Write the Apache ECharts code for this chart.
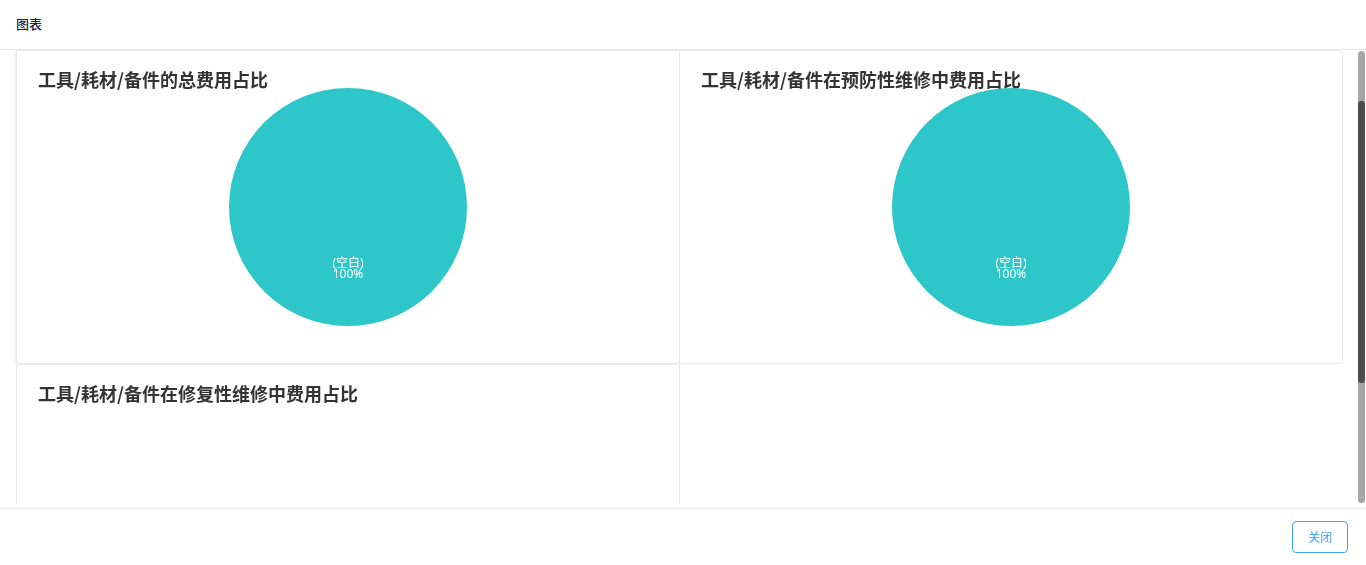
<!DOCTYPE html>
<html><head><meta charset="utf-8">
<script src="https://cdn.jsdelivr.net/npm/echarts@6/dist/echarts.min.js"></script>
<style>
html,body{margin:0;padding:0;width:1366px;height:565px;overflow:hidden;background:#fff;font-family:"Noto Sans CJK SC","Noto Sans",sans-serif;}
#hdr{position:absolute;left:0;top:0;width:1366px;height:49px;border-bottom:1px solid #e8e8e8;}
#hdr span{position:absolute;left:16px;top:14px;font-size:13px;color:#17233d;font-weight:500;}
#body{position:absolute;left:0;top:50px;width:1366px;height:454px;overflow:hidden;}
.panel{position:absolute;width:662px;height:312px;border:1px solid #e8e8e8;background:#fff;box-sizing:content-box;}
#p1{left:16px;top:0px;box-shadow:0 1px 4px rgba(0,0,0,0.12);border-radius:0 0 4px 4px;}
#p2{left:679px;top:0px;border-radius:0 4px 4px 0;}
#p3{left:16px;top:314px;}
.chart{width:662px;height:312px;}
#sb{position:absolute;left:1357px;top:50px;width:9px;height:455px;}
#sbt{position:absolute;left:1px;top:1px;width:7px;height:452px;background:#a6a6a6;border-radius:4px;}
#sbth{position:absolute;left:1px;top:51px;width:7px;height:282px;background:#4d4d4d;border-radius:3px;}
#ftr{position:absolute;left:0;top:508px;width:1366px;height:57px;border-top:1px solid #e8e8e8;}
#btn{position:absolute;left:1292px;top:12px;width:54px;height:30px;border:1px solid #409eff;border-radius:4px;color:#409eff;font-size:12px;line-height:30px;text-align:center;}
</style></head>
<body>
<div id="hdr"><span>图表</span></div>
<div id="body">
  <div class="panel" id="p1"><div class="chart" id="c1"></div></div>
  <div class="panel" id="p2"><div class="chart" id="c2"></div></div>
  <div class="panel" id="p3"><div class="chart" id="c3"></div></div>
</div>
<div id="sb"><div id="sbt"></div><div id="sbth"></div></div>
<div id="ftr"><div id="btn">关闭</div></div>
<script>
const titles = ['工具/耗材/备件的总费用占比','工具/耗材/备件在预防性维修中费用占比','工具/耗材/备件在修复性维修中费用占比'];
const categories1 = ['(空白)'];
const values1 = [100];
const categories2 = ['(空白)'];
const values2 = [100];
const categories3 = [];
const values3 = [];

const FONT = 'Noto Sans CJK SC';
const LFONT = 'Noto Sans, Noto Sans CJK SC, sans-serif';
function build(id, title, cats, vals){
  const c = echarts.init(document.getElementById(id), null, {renderer:'canvas'});
  c.setOption({
    animation:false,
    textStyle:{fontFamily:FONT},
    title:{text:title,left:21,top:20,padding:0,textStyle:{fontSize:18,fontWeight:'bold',color:'#333',fontFamily:FONT}},
    series: cats.length ? [{
      type:'pie',center:['50%','50%'],radius:119,
      color:['#2ec7c9'],
      label:{position:'inside',color:'#fff',fontSize:12,lineHeight:11,fontWeight:'normal',formatter:'{b}\n{d}%',fontFamily:LFONT},
      labelLine:{show:false},
      itemStyle:{borderWidth:0},
      data:cats.map((n,i)=>({name:n,value:vals[i]}))
    }] : []
  });
}
build('c1',titles[0],categories1,values1);
build('c2',titles[1],categories2,values2);
build('c3',titles[2],categories3,values3);
</script>
</body></html>
